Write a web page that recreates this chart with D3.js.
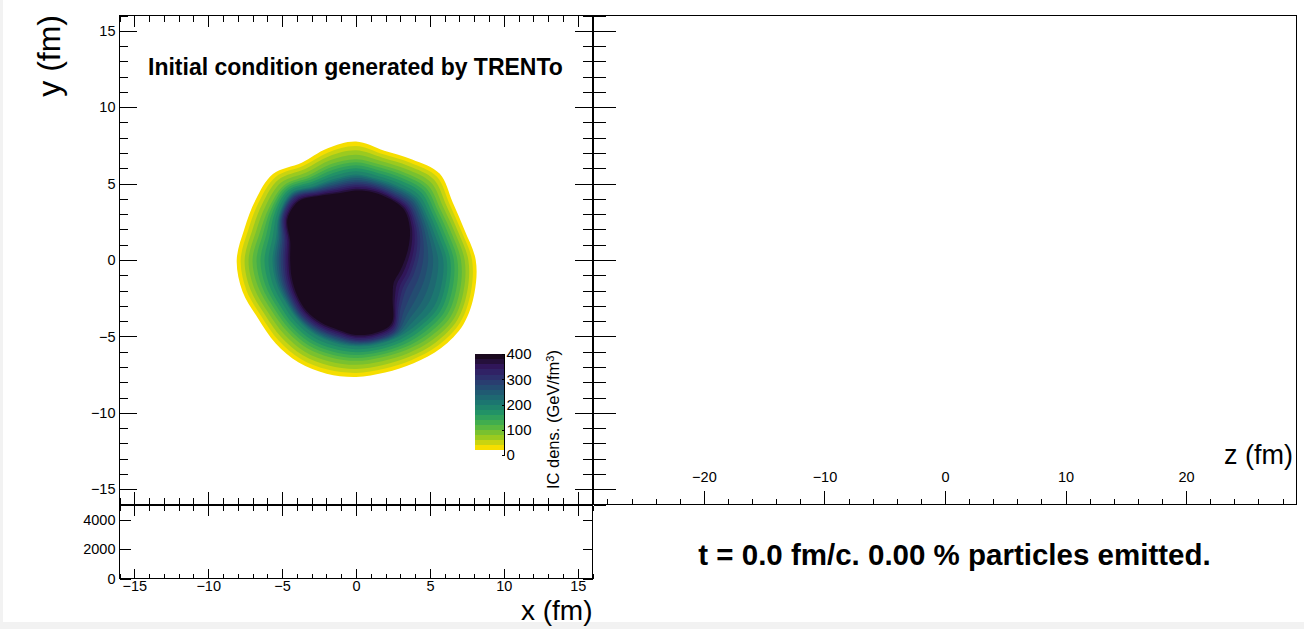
<!DOCTYPE html>
<html><head><meta charset="utf-8">
<script src="https://cdn.jsdelivr.net/npm/d3@7"></script>
<style>
html,body{margin:0;padding:0;background:#f2f2f2;}
svg{display:block;}
text{font-family:"Liberation Sans", Arial, Helvetica, sans-serif;fill:#000;}
.ax path{display:none;}
.ax line{stroke:#000;stroke-width:1;shape-rendering:crispEdges;}
</style></head><body>
<svg id="c" width="1304" height="629"></svg>
<script>
// ---- data ----
// polar outline of the TRENTo energy density: angle (deg) and radius (fm) where density crosses each level
const angles = [0, 15, 30, 45, 60, 75, 90, 105, 120, 135, 150, 165, 180, 195, 210, 225, 240, 255, 270, 285, 300, 315, 330, 345];
const r20  = [8.1, 7.6, 7.55, 8.0, 7.6, 7.4, 7.75, 7.55, 7.35, 7.95, 7.85, 7.82, 8.07, 7.95, 7.65, 7.7, 7.75, 7.7, 7.65, 7.62, 7.8, 8.15, 8.4, 8.3];
const r100 = [7.1, 6.7, 6.6, 6.9, 6.6, 6.45, 6.6, 6.5, 6.4, 6.9, 6.8, 6.75, 7.0, 6.85, 6.6, 6.6, 6.65, 6.6, 6.6, 6.6, 6.8, 7.1, 7.4, 7.3];
const r200 = [5.9, 5.6, 5.6, 5.8, 5.6, 5.5, 5.6, 5.5, 5.6, 6.2, 6.0, 5.6, 5.65, 5.6, 5.5, 5.55, 5.6, 5.6, 5.65, 5.7, 5.8, 5.9, 6.1, 6.0];
const r300 = [4.2, 4.5, 4.8, 5.1, 5.0, 5.0, 5.0, 4.95, 5.2, 5.85, 5.7, 5.05, 4.95, 5.0, 5.05, 5.15, 5.15, 5.15, 5.3, 5.35, 5.3, 4.3, 3.9, 4.0];
const r380 = [3.3, 3.7, 4.2, 4.62, 4.6, 4.58, 4.55, 4.52, 4.85, 5.45, 5.35, 4.6, 4.45, 4.5, 4.6, 4.72, 4.73, 4.72, 4.9, 4.95, 4.8, 3.5, 2.95, 3.05];
const levelValues = [20, 100, 200, 300, 380];
const contourLevels = [20,40,60,80,100,120,140,160,180,200,220,240,260,280,300,320,340,360,380];
const xyTicks = [-15, -10, -5, 0, 5, 10, 15];
const zTicks = [-20, -10, 0, 10, 20];
const histTicks = [0, 2000, 4000];
const paletteTicks = [0, 100, 200, 300, 400];
// ROOT kViridis stops (inverted: yellow = low)
const vRed   = [26, 51, 43, 33, 28, 35, 74, 144, 246];
const vGreen = [9, 24, 55, 87, 118, 150, 180, 200, 222];
const vBlue  = [30, 96, 112, 114, 112, 101, 72, 35, 0];
const titleText = "Initial condition generated by TRENTo";
const statusText = "t = 0.0 fm/c. 0.00 % particles emitted.";

// ---- drawing ----
const svg = d3.select("#c");
svg.append("rect").attr("x",3).attr("y",0).attr("width",1301).attr("height",622).attr("fill","#fff");

const x = d3.scaleLinear([-16,16],[119.5,592.5]);
const y = d3.scaleLinear([-16,16],[504.5,15.5]);
const z = d3.scaleLinear([-29.2,29.2],[593,1297]);
const h = d3.scaleLinear([0,5000],[578.5,505.5]);
const cz = d3.scaleLinear([0,400],[455,354]);

const palStops = vRed.map((r,i)=>d3.rgb(r,vGreen[i],vBlue[i]));
const palInterp = d3.piecewise(d3.interpolateRgb, palStops); // 0 dark -> 1 yellow
const bandColor = v => palInterp(1 - (v/20 - 1)/18);

// blob
const levelRadii = [r20, r100, r200, r300, r380];
function radiusAt(i, t){
  const rs = levelRadii.map(a=>a[i]);
  for (let k=0;k<levelValues.length-1;k++){
    if (t>=levelValues[k] && t<=levelValues[k+1]){
      const f=(t-levelValues[k])/(levelValues[k+1]-levelValues[k]);
      return rs[k]+(rs[k+1]-rs[k])*f;
    }
  }
  return rs[rs.length-1];
}
const line = d3.line().curve(d3.curveCatmullRomClosed.alpha(0.5));
const blob = svg.append("g");
contourLevels.forEach(t=>{
  const pts = angles.map((a,i)=>{
    const r = radiusAt(i,t), th = a*Math.PI/180;
    return [x(r*Math.cos(th)), y(r*Math.sin(th))];
  });
  blob.append("path").attr("d", line(pts)).attr("fill", bandColor(t));
});

// colour bar
const cb = svg.append("g");
contourLevels.forEach(t=>{
  cb.append("rect").attr("x",475).attr("width",29.5)
    .attr("y",cz(t+20)).attr("height",cz(t)-cz(t+20)+0.3).attr("fill",bandColor(t))
    .attr("shape-rendering","crispEdges");
});
const cAx = svg.append("g").attr("class","ax").attr("transform","translate(504.5,0)")
  .call(d3.axisRight(cz).tickValues(paletteTicks).tickSize(-3).tickPadding(3).tickFormat(d3.format("d")));
cAx.selectAll("text").attr("font-size",15).attr("x",2);
svg.append("line").attr("x1",504.5).attr("x2",504.5).attr("y1",354).attr("y2",455).attr("stroke","#000").attr("shape-rendering","crispEdges");
const ct = svg.append("text").attr("transform","translate(559,350) rotate(-90)").attr("text-anchor","end").attr("font-size",16.5);
ct.append("tspan").text("IC dens. (GeV/fm");
ct.append("tspan").attr("dy","-0.45em").attr("font-size",11).text("3");
ct.append("tspan").attr("dy","0.3em").text(")");

// helper for axes
function ax(gen, tx, ty, vals, size, fmt, fs, pad){
  const g = svg.append("g").attr("class","ax").attr("transform",`translate(${tx},${ty})`)
    .call(gen.tickValues(vals).tickSize(size).tickPadding(pad||3).tickFormat(fmt ? d3.format("d") : ""));
  if (fmt) g.selectAll("text").attr("font-size",fs||14.5);
  return g;
}
const minorXY = d3.range(-16,17,1);
// top panel
ax(d3.axisLeft(y),119.5,0,xyTicks,-17,true,14.5,4);
ax(d3.axisLeft(y),119.5,0,minorXY,-8.5,false);
ax(d3.axisTop(x),0,15.5,xyTicks,-11,false);
ax(d3.axisTop(x),0,15.5,minorXY,-6,false);
ax(d3.axisBottom(x),0,504.5,xyTicks,-13,false);
ax(d3.axisBottom(x),0,504.5,minorXY,-7,false);
ax(d3.axisRight(y),592.5,0,xyTicks,-18,false);
ax(d3.axisRight(y),592.5,0,minorXY,-10,false);
// right panel left ticks
ax(d3.axisRight(y),593.5,0,xyTicks,22,false);
ax(d3.axisRight(y),593.5,0,minorXY,12,false);
// right panel z axis
ax(d3.axisTop(z),0,504.5,zTicks,14,true,14.5,9);
ax(d3.axisTop(z),0,504.5,d3.range(-28,29,2),6,false);
// bottom panel
ax(d3.axisLeft(h),119.5,0,histTicks,-11,true,14.5,4);
ax(d3.axisRight(h),592.5,0,histTicks,-10,false);
ax(d3.axisBottom(x),0,578.5,xyTicks,-10,true,14.5,2);
ax(d3.axisBottom(x),0,578.5,minorXY,-5,false);
ax(d3.axisTop(x),0,505.5,xyTicks,-10,false);
ax(d3.axisTop(x),0,505.5,minorXY,-5,false);

// frames
const fr = svg.append("g").attr("fill","none").attr("stroke","#000").attr("shape-rendering","crispEdges");
fr.append("rect").attr("x",119.5).attr("y",15.5).attr("width",473).attr("height",489);
fr.append("rect").attr("x",119.5).attr("y",505.5).attr("width",473).attr("height",73);
fr.append("path").attr("d","M593.5,15.5H1296.5V504.5H593.5Z");

// texts
svg.append("text").attr("x",148).attr("y",75).attr("font-size",23).attr("font-weight","bold").text(titleText);
svg.append("text").attr("x",954.5).attr("y",565).attr("text-anchor","middle").attr("font-size",29.5).attr("font-weight","bold").text(statusText);
svg.append("text").attr("transform","translate(60,15) rotate(-90)").attr("text-anchor","end").attr("font-size",32).text("y (fm)");
svg.append("text").attr("x",592.5).attr("y",620).attr("text-anchor","end").attr("font-size",28).text("x (fm)");
svg.append("text").attr("x",1293).attr("y",464).attr("text-anchor","end").attr("font-size",27).text("z (fm)");
</script></body></html>
